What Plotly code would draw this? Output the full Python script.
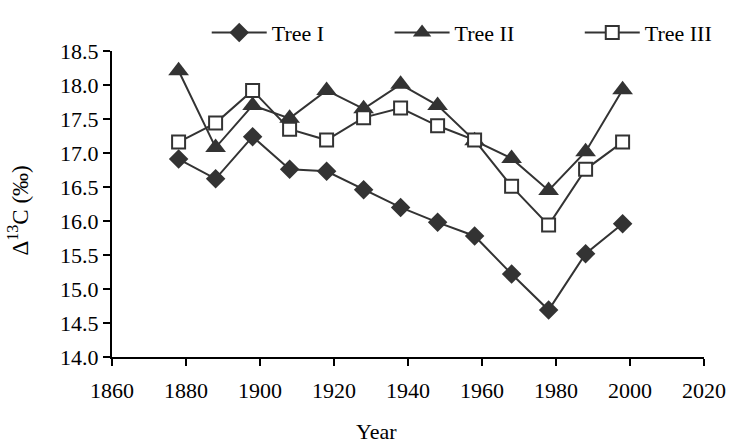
import plotly.graph_objects as go

years = [1878, 1888, 1898, 1908, 1918, 1928, 1938, 1948, 1958, 1968, 1978, 1988, 1998]
tree1 = [16.91, 16.62, 17.24, 16.76, 16.73, 16.46, 16.20, 15.98, 15.78, 15.22, 14.69, 15.52, 15.96]
tree2 = [18.21, 17.08, 17.70, 17.51, 17.92, 17.65, 18.01, 17.70, 17.18, 16.92, 16.45, 17.02, 17.93]
tree3 = [17.16, 17.44, 17.92, 17.35, 17.19, 17.52, 17.66, 17.40, 17.19, 16.51, 15.94, 16.76, 17.16]
names = ["Tree I", "Tree II", "Tree III"]
x_ticks = [1860, 1880, 1900, 1920, 1940, 1960, 1980, 2000, 2020]
y_ticks = [14.0, 14.5, 15.0, 15.5, 16.0, 16.5, 17.0, 17.5, 18.0, 18.5]

C = "#333333"
FONT = "Liberation Serif"
FS = 22
PAD = "\u00a0" * 11

fig = go.Figure()
fig.add_trace(go.Scatter(x=years, y=tree1, name=names[0] + PAD, mode="lines+markers",
                         line=dict(color=C, width=2),
                         marker=dict(symbol="diamond", size=15, color=C)))
fig.add_trace(go.Scatter(x=years, y=tree2, name=names[1] + PAD, mode="lines+markers",
                         line=dict(color=C, width=2),
                         marker=dict(symbol="triangle-up", size=18, color=C)))
fig.add_trace(go.Scatter(x=years, y=tree3, name=names[2], mode="lines+markers",
                         line=dict(color=C, width=2),
                         marker=dict(symbol="square", size=13, color="white",
                                     line=dict(color=C, width=2))))

fig.update_layout(
    width=738, height=446,
    margin=dict(l=112, r=27, t=41, b=89),
    paper_bgcolor="white", plot_bgcolor="white",
    font=dict(family=FONT, size=FS, color="black"),
    showlegend=True,
    legend=dict(orientation="h", x=0.16, xanchor="left", y=1.06, yanchor="middle",
                font=dict(family=FONT, size=FS, color="black"),
                itemwidth=55, bgcolor="rgba(0,0,0,0)", tracegroupgap=0),
    xaxis=dict(range=[1860, 2020], tickvals=x_ticks, ticktext=[str(v) for v in x_ticks],
               showline=True, linecolor="black", linewidth=2, showgrid=False, zeroline=False,
               ticks="outside", ticklen=7, tickwidth=2, tickcolor="black",
               ticklabelstandoff=6,
               tickfont=dict(family=FONT, size=FS, color="black")),
    yaxis=dict(range=[14.0, 18.5], tickvals=y_ticks, ticktext=[f"{v:.1f}" for v in y_ticks],
               showline=True, linecolor="black", linewidth=2, showgrid=False, zeroline=False,
               ticks="outside", ticklen=7, tickwidth=2, tickcolor="black",
               tickfont=dict(family=FONT, size=FS, color="black")),
    annotations=[
        dict(text="Year", xref="paper", yref="paper", x=0.446, y=-0.244,
             xanchor="center", yanchor="middle", showarrow=False,
             font=dict(family=FONT, size=FS, color="black")),
        dict(text="Δ<sup>13</sup>C (‰)", xref="paper", yref="paper", x=-0.158, y=0.48,
             xanchor="center", yanchor="middle", textangle=-90, showarrow=False,
             font=dict(family=FONT, size=23, color="black")),
    ],
)

fig.write_html("out.html")
